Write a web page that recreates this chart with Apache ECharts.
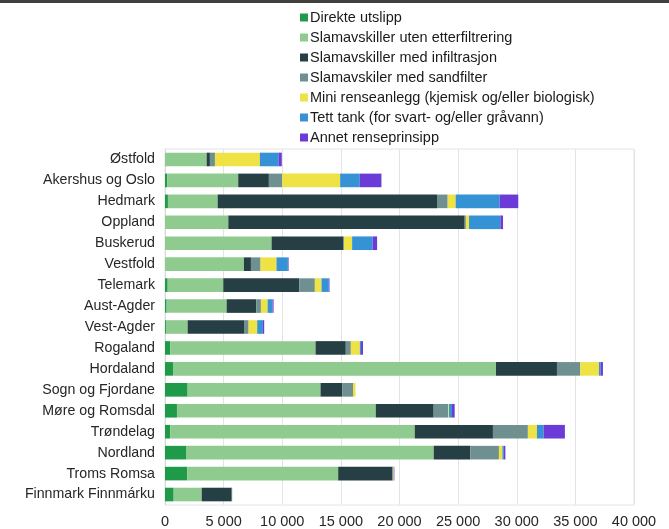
<!DOCTYPE html>
<html><head><meta charset="utf-8">
<script src="https://cdn.jsdelivr.net/npm/echarts@6/dist/echarts.min.js"></script>
<style>html,body{margin:0;padding:0;background:#fff}#c{width:669px;height:529px}</style>
</head><body><div id="c"></div>
<script>
const categories = ["Østfold","Akershus og Oslo","Hedmark","Oppland","Buskerud","Vestfold","Telemark","Aust-Agder","Vest-Agder","Rogaland","Hordaland","Sogn og Fjordane","Møre og Romsdal","Trøndelag","Nordland","Troms Romsa","Finnmark Finnmárku"];
const seriesNames = ["Direkte utslipp","Slamavskiller uten etterfiltrering","Slamavskiller med infiltrasjon","Slamavskiler med sandfilter","Mini renseanlegg (kjemisk og/eller biologisk)","Tett tank (for svart- og/eller gråvann)","Annet renseprinsipp"];
const direkte   = [30, 200, 250, 0, 0, 0, 230, 140, 80, 450, 680, 1930, 1020, 455, 1790, 1900, 740];
const utenEtter = [3520, 6045, 4240, 5400, 9090, 6730, 4740, 5115, 1850, 12390, 27550, 11335, 16955, 20845, 21130, 12870, 2390];
const infiltr   = [280, 2615, 18710, 20160, 6100, 600, 6475, 2525, 4860, 2580, 5200, 1845, 4940, 6670, 3125, 4630, 2560];
const sandfilt  = [430, 1140, 910, 100, 80, 820, 1335, 400, 340, 430, 1990, 930, 1250, 2980, 2435, 60, 40];
const mini      = [3830, 4937, 680, 270, 690, 1360, 570, 570, 735, 770, 1590, 210, 60, 770, 300, 50, 0];
const tett      = [1590, 1677, 3750, 2670, 1740, 970, 620, 425, 485, 100, 140, 0, 250, 570, 120, 0, 0];
const annet     = [280, 1846, 1590, 230, 390, 60, 60, 85, 110, 170, 200, 0, 230, 1815, 130, 50, 0];
const xTicks = [0, 5000, 10000, 15000, 20000, 25000, 30000, 35000, 40000];

const colors = ["#1f9a48","#8fcb8f","#263f45","#6f9090","#efe245","#3592d4","#6a3bd6"];
const dataArr = [direkte, utenEtter, infiltr, sandfilt, mini, tett, annet];
const fmt = v => String(v).replace(/\B(?=(\d{3})+(?!\d))/g, " ");
const FONT = 'Liberation Sans, Arial';
const chart = echarts.init(document.getElementById('c'), null, {renderer:'canvas'});
chart.setOption({
  animation:false,
  color: colors,
  graphic:[{type:'rect', shape:{x:0,y:0,width:669,height:3}, style:{fill:'#404040'}}],
  legend:{
    orient:'vertical', left:295, top:5, itemWidth:8, itemHeight:8, itemGap:5,
    icon:'rect',
    textStyle:{fontFamily:FONT, fontSize:14.5, color:'#1a1a1a', padding:[0,0,0,-3]},
    data: seriesNames
  },
  grid:{left:165, right:35, top:149, bottom:23, containLabel:false, show:true, borderColor:'#e4e4e4', borderWidth:1, backgroundColor:'transparent'},
  xAxis:{
    type:'value', min:xTicks[0], max:xTicks[xTicks.length-1], interval:5000,
    axisLine:{show:false}, axisTick:{show:false},
    splitLine:{show:true, lineStyle:{color:'#e4e4e4'}},
    axisLabel:{formatter: v => fmt(v), fontFamily:FONT, fontSize:14.5, color:'#262626', margin:9}
  },
  yAxis:{
    type:'category', data:categories, inverse:true,
    axisLine:{show:true, lineStyle:{color:'#d9d9d9'}}, axisTick:{show:false},
    splitLine:{show:false},
    axisLabel:{fontFamily:FONT, fontSize:14.2, color:'#262626', margin:10}
  },
  series: seriesNames.map((n,i)=>({
    name:n, type:'bar', stack:'t', data:dataArr[i], barCategoryGap:'35%',
    itemStyle:{color:colors[i]}
  }))
});
</script></body></html>
